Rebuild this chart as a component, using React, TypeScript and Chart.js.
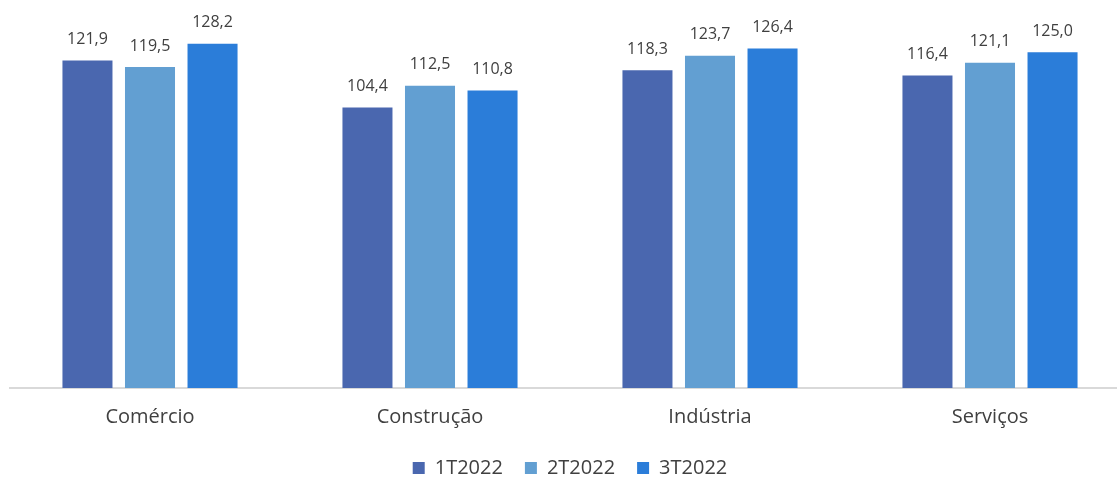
import React, { useEffect, useRef } from "react";
import { Chart, registerables } from "chart.js";

Chart.register(...registerables);

const categories = ["Comércio", "Construção", "Indústria", "Serviços"];
const seriesNames = ["1T2022", "2T2022", "3T2022"];
const values1T = [121.9, 104.4, 118.3, 116.4];
const values2T = [119.5, 112.5, 123.7, 121.1];
const values3T = [128.2, 110.8, 126.4, 125.0];
const seriesColors = ["#4A67AF", "#629FD2", "#2B7DD9"];

const FONT = "'Open Sans', 'DejaVu Sans', sans-serif";
const TEXT_COLOR = "#404040";

const fmt = (v: number) => v.toFixed(1).replace(".", ",");

const valueLabelPlugin = {
  id: "valueLabels",
  afterDatasetsDraw(chart: any) {
    const ctx = chart.ctx;
    ctx.save();
    ctx.font = `16px ${FONT}`;
    ctx.fillStyle = TEXT_COLOR;
    ctx.textAlign = "center";
    ctx.textBaseline = "middle";
    chart.data.datasets.forEach((ds: any, i: number) => {
      const meta = chart.getDatasetMeta(i);
      meta.data.forEach((el: any, j: number) => {
        ctx.fillText(fmt(ds.data[j]), el.x, el.y - 21);
      });
    });
    ctx.restore();
  },
};

export default function App() {
  const canvasRef = useRef<HTMLCanvasElement>(null);

  useEffect(() => {
    document.body.style.margin = "0";
    document.body.style.overflow = "hidden";
    const canvas = canvasRef.current;
    if (!canvas) return;
    const allValues = [values1T, values2T, values3T];
    const chart = new Chart(canvas, {
      type: "bar",
      data: {
        labels: categories,
        datasets: seriesNames.map((name, i) => ({
          label: name,
          data: allValues[i],
          backgroundColor: seriesColors[i],
          borderWidth: 0,
          categoryPercentage: 0.67,
          barPercentage: 0.8,
        })),
      },
      options: {
        responsive: false,
        animation: false,
        devicePixelRatio: 1,
        layout: { padding: { left: 10, right: 10, top: 12, bottom: -6 } },
        plugins: {
          tooltip: { enabled: false },
          legend: {
            position: "bottom",
            labels: {
              font: { family: FONT, size: 20 },
              color: TEXT_COLOR,
              boxWidth: 12,
              boxHeight: 12,
              padding: 22,
            },
          },
        },
        scales: {
          x: {
            offset: true,
            grid: { display: false, drawTicks: false },
            border: { display: true, color: "#D9D9D9", width: 2 },
            ticks: {
              font: { family: FONT, size: 20 },
              color: TEXT_COLOR,
              padding: 17,
            },
            afterFit: (scale: any) => {
              scale.height = 48;
            },
          },
          y: {
            display: false,
            min: 0,
            max: 140,
          },
        },
      },
      plugins: [valueLabelPlugin],
    });
    return () => chart.destroy();
  }, []);

  return (
    <div style={{ width: 1140, height: 482, position: "relative" }}>
      <canvas ref={canvasRef} width={1140} height={482} style={{ display: "block" }} />
    </div>
  );
}
